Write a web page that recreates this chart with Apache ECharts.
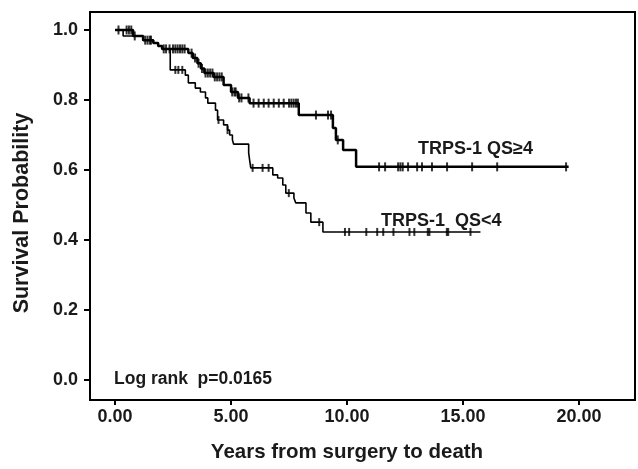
<!DOCTYPE html>
<html><head><meta charset="utf-8">
<script src="https://cdn.jsdelivr.net/npm/echarts@6/dist/echarts.min.js"></script>
<style>html,body{margin:0;padding:0;background:#fff}#c{width:638px;height:469px}</style>
</head><body><div id="c"></div>
<script>
// ---- data ----
const xTicks = [0, 5, 10, 15, 20];
const yTicks = [0, 0.2, 0.4, 0.6, 0.8, 1.0];

// TRPS-1 QS>=4 : event times (years) and survival after each step
const highTimes = [0, 0.78, 1.21, 1.65, 1.86, 2.03, 3.16, 3.35, 3.55, 3.7, 3.85, 4.25, 4.68, 5.0, 5.3, 5.8, 7.92, 9.39, 9.52, 9.83, 10.39, 19.55];
const highSurv  = [1.0, 0.983, 0.971, 0.963, 0.954, 0.946, 0.934, 0.92, 0.905, 0.89, 0.877, 0.866, 0.843, 0.823, 0.806, 0.791, 0.757, 0.72, 0.686, 0.657, 0.609, 0.609];
const highCensor = [0.15, 0.5, 0.6, 0.7, 0.85, 1.3, 1.4, 1.5, 1.55, 2.1, 2.2, 2.35, 2.5, 2.6, 2.7, 2.8, 2.9, 3.0, 3.3, 3.45, 3.6, 3.75, 3.9, 4.0, 4.1, 4.2, 4.3, 4.4, 4.5, 4.6, 5.05, 5.15, 5.2, 5.35, 5.45, 5.75, 5.97, 6.19, 6.41, 6.62, 6.84, 7.06, 7.27, 7.5, 7.6, 7.7, 7.8, 7.88, 8.66, 9.18, 9.31, 9.6, 11.38, 11.64, 12.2, 12.3, 12.4, 12.63, 13.02, 13.23, 13.66, 14.31, 15.39, 16.47, 19.44];

// TRPS-1 QS<4
const lowTimes = [0, 0.35, 1.21, 1.65, 1.86, 2.03, 2.38, 3.03, 3.16, 3.46, 3.68, 3.9, 4.0, 4.33, 4.42, 4.68, 4.85, 4.94, 5.06, 5.11, 5.76, 5.8, 5.85, 6.8, 7.01, 7.23, 7.36, 7.71, 7.79, 8.23, 8.44, 8.96, 15.75];
const lowSurv  = [1.0, 0.983, 0.971, 0.963, 0.954, 0.946, 0.886, 0.871, 0.849, 0.834, 0.823, 0.806, 0.791, 0.771, 0.743, 0.729, 0.714, 0.7, 0.686, 0.674, 0.649, 0.629, 0.606, 0.586, 0.577, 0.557, 0.534, 0.52, 0.506, 0.477, 0.451, 0.423, 0.423];
const lowCensor = [2.6, 2.73, 2.9, 4.46, 4.85, 5.93, 6.36, 6.62, 7.49, 8.8, 9.91, 10.09, 10.83, 11.3, 11.56, 12.0, 12.69, 12.9, 13.48, 13.55, 14.3, 14.36, 15.32];

// ---- build ----
function survAt(times, surv, t) {
  let s = surv[0];
  for (let i = 0; i < times.length; i++) { if (times[i] <= t) s = surv[i]; else break; }
  return s;
}
const pair = (a, b) => a.map((v, i) => [v, b[i]]);
const censorPts = (c, times, surv) => c.map(t => [t, survAt(times, surv, t)]);

const FONT = 'Liberation Sans';
const TXT = '#1a1a1a';
const chart = echarts.init(document.getElementById('c'), null, { renderer: 'canvas' });
chart.setOption({
  animation: false,
  backgroundColor: '#fff',
  grid: { left: 90, right: 3, top: 12, bottom: 69, show: true, borderColor: '#000', borderWidth: 2, backgroundColor: 'transparent' },
  xAxis: {
    type: 'value', min: -1.078, max: 22.41,
    axisLine: { show: true, onZero: false, lineStyle: { color: '#000', width: 2 } },
    axisTick: { show: true, customValues: xTicks, length: 5, inside: false, lineStyle: { color: '#000', width: 2 } },
    axisLabel: { customValues: xTicks, formatter: v => v.toFixed(2), fontFamily: FONT, fontWeight: 'bold', fontSize: 18, color: TXT, margin: 8 },
    splitLine: { show: false }
  },
  yAxis: {
    type: 'value', min: -0.0571, max: 1.0514,
    axisLine: { show: true, onZero: false, lineStyle: { color: '#000', width: 2 } },
    axisTick: { show: true, customValues: yTicks, length: 6, inside: false, lineStyle: { color: '#000', width: 2 } },
    axisLabel: { customValues: yTicks, formatter: v => v.toFixed(1), fontFamily: FONT, fontWeight: 'bold', fontSize: 18, color: TXT, margin: 12 },
    splitLine: { show: false }
  },
  series: [
    { type: 'line', step: 'end', data: pair(highTimes, highSurv), symbol: 'none', lineStyle: { color: '#000', width: 2.5 }, z: 3 },
    { type: 'line', step: 'end', data: pair(lowTimes, lowSurv), symbol: 'none', lineStyle: { color: '#000', width: 1.6 }, z: 3 },
    { type: 'scatter', data: censorPts(highCensor, highTimes, highSurv), symbol: 'rect', symbolSize: [2, 9], itemStyle: { color: '#000' }, z: 4 },
    { type: 'scatter', data: censorPts(lowCensor, lowTimes, lowSurv), symbol: 'rect', symbolSize: [2, 8], itemStyle: { color: '#000' }, z: 4 }
  ],
  graphic: [
    { type: 'text', left: 418, top: 140, style: { text: 'TRPS-1 QS\u22654', font: 'bold 18px "Liberation Sans"', fill: TXT } },
    { type: 'text', left: 381, top: 212, style: { text: 'TRPS-1  QS<4', font: 'bold 18px "Liberation Sans"', fill: TXT } },
    { type: 'text', left: 114, top: 370, style: { text: 'Log rank  p=0.0165', font: 'bold 17.5px "Liberation Sans"', fill: TXT } },
    { type: 'text', x: 347, y: 452, style: { text: 'Years from surgery to death', font: 'bold 20.5px "Liberation Sans"', fill: TXT, align: 'center', verticalAlign: 'middle' } },
    { type: 'text', x: 22, y: 213, rotation: Math.PI / 2, style: { text: 'Survival Probability', font: 'bold 21.5px "Liberation Sans"', fill: TXT, align: 'center', verticalAlign: 'middle' } }
  ]
});
</script>
</body></html>
